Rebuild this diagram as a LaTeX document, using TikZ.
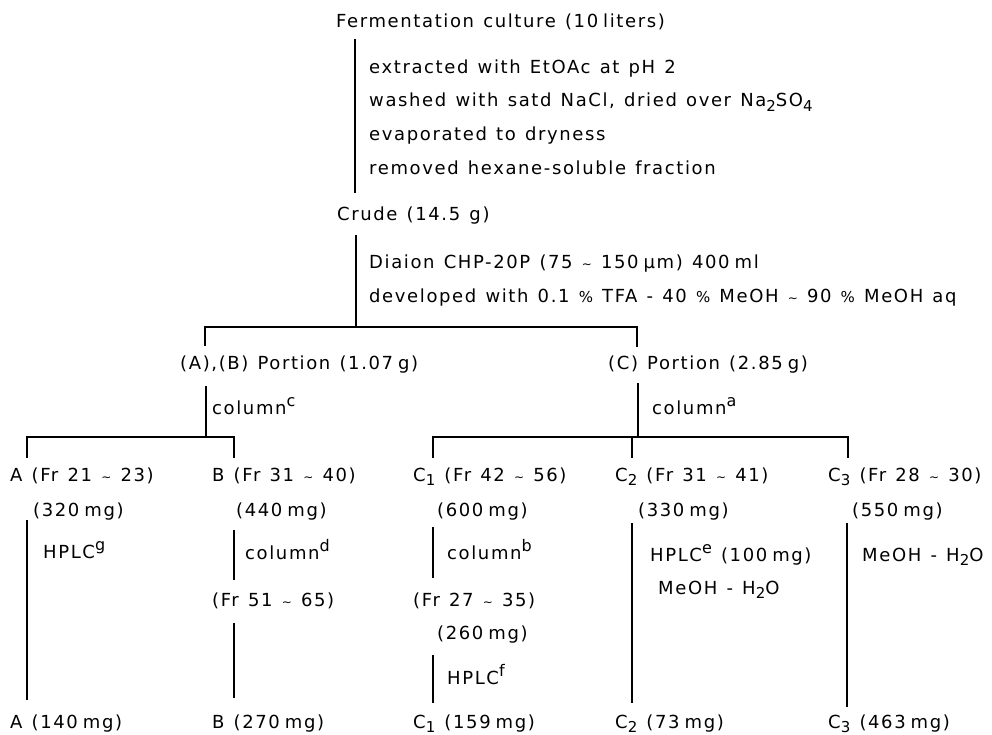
\documentclass[tikz,border=0pt]{standalone}
\usepackage{fontspec}
\setmainfont[LetterSpace=9,WordSpace=1.25]{DejaVu Sans}
\newcommand\mysub[1]{\raisebox{-0.5ex}{\fontsize{15}{15}\selectfont #1}}
\newcommand\mysup[1]{\raisebox{0.8ex}{\fontsize{16}{16}\selectfont #1}}
\newcommand\mytilde{{\fontsize{12}{12}\selectfont\textasciitilde}}
\newcommand\mypct{{\fontsize{15}{15}\selectfont\%}}
\newcommand\nsp{\hspace{5pt}}
\begin{document}
\begin{tikzpicture}[x=1pt,y=-1pt,
  lbl/.style={inner sep=0pt, anchor=base west, font=\fontsize{18}{20}\selectfont},
  conn/.style={line width=1.6pt, black},
  mainconn/.style={line width=2.4pt, black}]
\useasboundingbox (0,0) rectangle (992,735);

% ---- top part
\node[lbl] (ferm) at (336,28) {Fermentation culture (10\nsp liters)};
\node[lbl] (s1) at (369,74) {extracted with EtOAc at pH 2};
\node[lbl] (s2) at (369,107) {washed with satd NaCl, dried over Na\mysub{2}SO\mysub{4}};
\node[lbl] (s3) at (369,141) {evaporated to dryness};
\node[lbl] (s4) at (369,175) {removed hexane-soluble fraction};
\node[lbl] (crude) at (337,221) {Crude (14.5 g)};
\node[lbl] (d1) at (369,268) {Diaion CHP-20P (75 \mytilde{} 150\nsp μm) 400\nsp ml};
\node[lbl] (d2) at (369,302) {developed with 0.1 \mypct{} TFA - 40 \mypct{} MeOH \mytilde{} 90 \mypct{} MeOH aq};

\coordinate (v1t) at (355,39);  \coordinate (v1b) at (355,193);
\draw[mainconn] (v1t) -- (v1b);
\coordinate (v2t) at (356,235); \coordinate (v2b) at (356,327);
\draw[conn] (v2t) -- (v2b);
\coordinate (h1L) at (205,327); \coordinate (h1R) at (637,327);
\coordinate (h1Ld) at (205,346); \coordinate (h1Rd) at (637,347);
\draw[conn] (h1Ld) -- (h1L) -- (h1R) -- (h1Rd);

% ---- portions
\node[lbl] (pab) at (180,369) {(A),(B) Portion (1.07\nsp g)};
\node[lbl] (pc) at (608,369) {(C) Portion (2.85\nsp g)};
\node[lbl] (colc) at (212,414) {column\mysup{c}};
\node[lbl] (cola) at (652,414) {column\mysup{a}};

\coordinate (vabt) at (206,386); \coordinate (vabb) at (206,437);
\draw[conn] (vabt) -- (vabb);
\coordinate (vct) at (638,383); \coordinate (vcb) at (638,437);
\draw[conn] (vct) -- (vcb);

\coordinate (h2L) at (27,437); \coordinate (h2R) at (234,437);
\coordinate (h2Ld) at (27,458); \coordinate (h2Rd) at (234,458);
\draw[conn] (h2Ld) -- (h2L) -- (h2R) -- (h2Rd);

\coordinate (h3L) at (433,437); \coordinate (h3M) at (632,437); \coordinate (h3R) at (848,437);
\coordinate (h3Ld) at (433,458); \coordinate (h3Md) at (632,458); \coordinate (h3Rd) at (848,458);
\draw[conn] (h3Ld) -- (h3L) -- (h3R) -- (h3Rd);
\draw[conn] (h3M) -- (h3Md);

% ---- fraction row
\node[lbl] (fa) at (10,481) {A (Fr 21 \mytilde{} 23)};
\node[lbl] (fb) at (212,481) {B (Fr 31 \mytilde{} 40)};
\node[lbl] (fc1) at (413,481) {C\mysub{1} (Fr 42 \mytilde{} 56)};
\node[lbl] (fc2) at (615,481) {C\mysub{2} (Fr 31 \mytilde{} 41)};
\node[lbl] (fc3) at (828,481) {C\mysub{3} (Fr 28 \mytilde{} 30)};

\node[lbl] (ma) at (33,516) {(320\nsp mg)};
\node[lbl] (mb) at (236,516) {(440\nsp mg)};
\node[lbl] (mc1) at (437,516) {(600\nsp mg)};
\node[lbl] (mc2) at (638,516) {(330\nsp mg)};
\node[lbl] (mc3) at (852,516) {(550\nsp mg)};

% ---- A branch
\node[lbl] (hplcg) at (43,558) {HPLC\mysup{g}};
\coordinate (vat) at (27,520); \coordinate (vab2) at (27,700);
\draw[conn] (vat) -- (vab2);
\node[lbl] (ra) at (10,728) {A (140\nsp mg)};

% ---- B branch
\coordinate (vb1t) at (234,530); \coordinate (vb1b) at (234,580);
\draw[conn] (vb1t) -- (vb1b);
\node[lbl] (cold) at (245,559) {column\mysup{d}};
\node[lbl] (fb2) at (212,606) {(Fr 51 \mytilde{} 65)};
\coordinate (vb2t) at (234,623); \coordinate (vb2b) at (234,698);
\draw[conn] (vb2t) -- (vb2b);
\node[lbl] (rb) at (212,728) {B (270\nsp mg)};

% ---- C1 branch
\coordinate (vc11t) at (433,527); \coordinate (vc11b) at (433,578);
\draw[conn] (vc11t) -- (vc11b);
\node[lbl] (colb) at (447,559) {column\mysup{b}};
\node[lbl] (fc12) at (413,606) {(Fr 27 \mytilde{} 35)};
\node[lbl] (mc12) at (437,639) {(260\nsp mg)};
\coordinate (vc12t) at (433,655); \coordinate (vc12b) at (433,703);
\draw[conn] (vc12t) -- (vc12b);
\node[lbl] (hplcf) at (447,684) {HPLC\mysup{f}};
\node[lbl] (rc1) at (413,728) {C\mysub{1} (159\nsp mg)};

% ---- C2 branch
\coordinate (vc2t) at (632,523); \coordinate (vc2b) at (632,703);
\draw[conn] (vc2t) -- (vc2b);
\node[lbl] (hplce) at (650,561) {HPLC\mysup{e} (100\nsp mg)};
\node[lbl] (mw2) at (658,594) {MeOH - H\mysub{2}O};
\node[lbl] (rc2) at (615,728) {C\mysub{2} (73\nsp mg)};

% ---- C3 branch
\coordinate (vc3t) at (847,523); \coordinate (vc3b) at (847,707);
\draw[conn] (vc3t) -- (vc3b);
\node[lbl] (mw3) at (862,561) {MeOH - H\mysub{2}O};
\node[lbl] (rc3) at (828,728) {C\mysub{3} (463\nsp mg)};
\end{tikzpicture}
\end{document}
